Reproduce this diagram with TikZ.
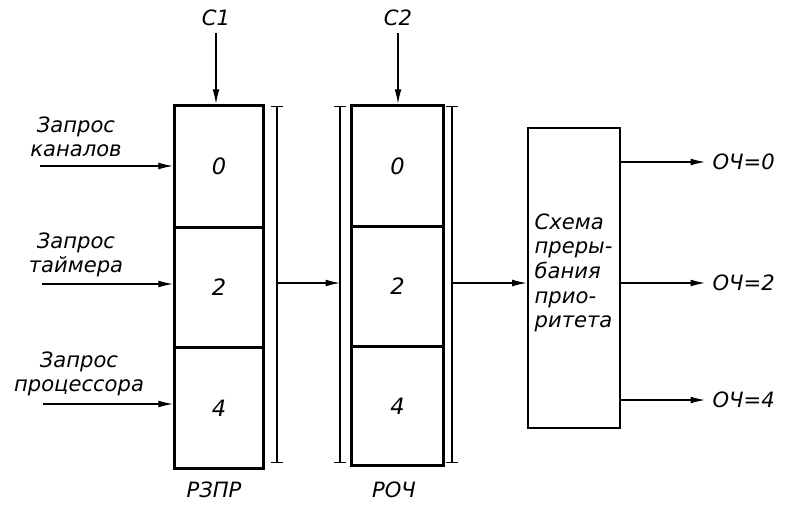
\documentclass[tikz,border=0pt]{standalone}
\usepackage{fontspec}
\setmainfont{DejaVu Sans}
\usetikzlibrary{arrows.meta,positioning,fit}
\tikzset{
  cell/.style={draw=black, line width=1.1pt, minimum width=2.2cm,
    inner sep=0pt, font=\fontsize{16}{18}\selectfont\itshape},
  regframe/.style={draw=black, line width=2pt, inner sep=0pt},
  schemebox/.style={draw=black, line width=2pt, minimum width=2.3cm,
    minimum height=7.5cm, inner sep=0pt},
  bracket/.style={{Bar[width=3mm]}-{Bar[width=3mm]}, line width=1pt},
  flow/.style={-{Latex[length=3.6mm,width=1.7mm]}, line width=.8pt},
  labeltext/.style={font=\fontsize{15}{17.5}\selectfont\itshape, align=center, inner sep=1pt}
}
\begin{document}
\begin{tikzpicture}[x=0.025cm, y=-0.025cm]
  \useasboundingbox (0,0) rectangle (789,507);

  % register RZPR
  \node[cell, minimum height=3.025cm] (r0) at (219,166.5) {0};
  \node[cell, minimum height=2.95cm, below=0pt of r0] (r2) {2};
  \node[cell, minimum height=3cm, below=0pt of r2] (r4) {4};
  \node[regframe, fit=(r0)(r4)] (rzpr) {};
  \node[labeltext] (rzprlbl) at (214,490) {РЗПР};

  % register ROCh
  \node[cell, minimum width=2.275cm, minimum height=3cm] (q0) at (397.5,166) {0};
  \node[cell, minimum width=2.275cm, minimum height=2.95cm, below=0pt of q0] (q2) {2};
  \node[cell, minimum width=2.275cm, minimum height=2.95cm, below=0pt of q2] (q4) {4};
  \node[regframe, fit=(q0)(q4)] (roch) {};
  \node[labeltext] (rochlbl) at (394,490) {РОЧ};

  % priority scheme
  \node[schemebox] (prio) at (574,278) {};
  \node[labeltext, align=left, anchor=north west] (priolbl) at (533,212)
    {Схема\\преры-\\бания\\прио-\\ритета};

  % brackets
  \coordinate (b1t) at (277,106); \coordinate (b1b) at (277,463);
  \coordinate (b2t) at (340,106); \coordinate (b2b) at (340,463);
  \coordinate (b3t) at (452,106); \coordinate (b3b) at (452,463);
  \draw[bracket] (b1t) -- (b1b);
  \draw[bracket] (b2t) -- (b2b);
  \draw[bracket] (b3t) -- (b3b);
  \draw[flow] (277,283) -- (340,283);
  \draw[flow] (452,283) -- (prio.west |- 0,283);

  % clocks
  \node[labeltext] (c1) at (216,18) {С1};
  \node[labeltext] (c2) at (398,18) {С2};
  \draw[flow] (c1.south) ++(0,-4pt) -- (c1 |- rzpr.north);
  \draw[flow] (c2.south) ++(0,-4pt) -- (c2 |- roch.north);

  % requests
  \coordinate (in0) at (40,166);
  \coordinate (in2) at (42,284);
  \coordinate (in4) at (43,404);
  \draw[flow] (in0) -- (in0 -| rzpr.west);
  \draw[flow] (in2) -- (in2 -| rzpr.west);
  \draw[flow] (in4) -- (in4 -| rzpr.west);
  \node[labeltext] (req0) at (76,137) {Запрос\\каналов};
  \node[labeltext] (req2) at (76,255) {Запрос\\таймера};
  \node[labeltext] (req4) at (79,374) {Запрос\\процессора};

  % outputs
  \coordinate (out0) at (705,162);
  \coordinate (out2) at (705,283);
  \coordinate (out4) at (705,400);
  \draw[flow] (out0 -| prio.east) -- (out0) node[labeltext, right=4pt] (o0) {ОЧ=0};
  \draw[flow] (out2 -| prio.east) -- (out2) node[labeltext, right=4pt] (o2) {ОЧ=2};
  \draw[flow] (out4 -| prio.east) -- (out4) node[labeltext, right=4pt] (o4) {ОЧ=4};
\end{tikzpicture}
\end{document}
